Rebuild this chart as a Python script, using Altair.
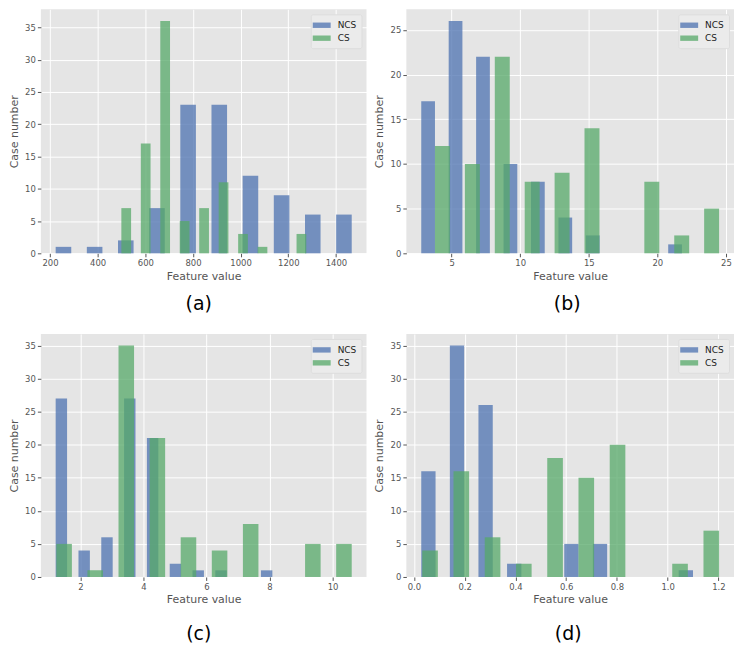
import altair as alt
import pandas as pd

series_names = ["NCS", "CS"]
series_colors = ["#4C72B0", "#55A868"]

# (a)
a_ncs_edges = [191, 321.8, 452.6, 583.4, 714.2, 845, 975.8, 1106.6, 1237.4, 1368.2, 1499]
a_ncs_counts = [1, 1, 2, 7, 23, 23, 12, 9, 6, 6]
a_cs_edges = [479, 560.7, 642.4, 724.1, 805.8, 887.5, 969.2, 1050.9, 1132.6, 1214.3, 1296]
a_cs_counts = [7, 17, 36, 5, 7, 11, 3, 1, 0, 3]
a_xticks = [200, 400, 600, 800, 1000, 1200, 1400]
a_yticks = [0, 5, 10, 15, 20, 25, 30, 35]

# (b)
b_ncs_edges = [2.29, 4.29, 6.29, 8.29, 10.29, 12.29, 14.29, 16.29, 18.29, 20.29, 22.29]
b_ncs_counts = [17, 26, 22, 10, 8, 4, 2, 0, 0, 1]
b_cs_edges = [3.245, 5.425, 7.605, 9.785, 11.965, 14.145, 16.325, 18.505, 20.685, 22.865, 25.045]
b_cs_counts = [12, 10, 22, 8, 9, 14, 0, 8, 2, 5]
b_xticks = [5, 10, 15, 20, 25]
b_yticks = [0, 5, 10, 15, 20, 25]

# (c)
c_ncs_edges = [1.034, 1.758, 2.481, 3.205, 3.929, 4.653, 5.376, 6.100, 6.824, 7.547, 8.271]
c_ncs_counts = [27, 4, 6, 27, 21, 2, 1, 1, 0, 1]
c_cs_edges = [0.989, 1.976, 2.962, 3.949, 4.935, 5.922, 6.909, 7.895, 8.882, 9.868, 10.855]
c_cs_counts = [5, 1, 35, 21, 6, 4, 8, 0, 5, 5]
c_xticks = [2, 4, 6, 8, 10]
c_yticks = [0, 5, 10, 15, 20, 25, 30, 35]

# (d)
d_ncs_edges = [0.0005, 0.1133, 0.2260, 0.3388, 0.4516, 0.5643, 0.6771, 0.7898, 0.9026, 1.0154, 1.1281]
d_ncs_counts = [16, 35, 26, 2, 0, 5, 5, 0, 0, 1]
d_cs_edges = [0.0018, 0.1250, 0.2482, 0.3714, 0.4946, 0.6178, 0.7409, 0.8641, 0.9873, 1.1105, 1.2337]
d_cs_counts = [4, 16, 6, 2, 18, 15, 20, 0, 2, 7]
d_xticks = [0.0, 0.2, 0.4, 0.6, 0.8, 1.0, 1.2]
d_yticks = [0, 5, 10, 15, 20, 25, 30, 35]

RWIDTH = 0.5


def make_panel(ncs_edges, ncs_counts, cs_edges, cs_counts, xticks, yticks,
               label, fmt, width, height, offset, dx):
    rows = []
    for z, (name, edges, counts) in enumerate(
            [("NCS", ncs_edges, ncs_counts), ("CS", cs_edges, cs_counts)]):
        for i, c in enumerate(counts):
            rows.append({"series": name, "lo": edges[i], "hi": edges[i + 1],
                         "count": c, "z": z})
    df = pd.DataFrame(rows)
    bw = df["hi"] - df["lo"]
    left = df["lo"] + bw * (1 - RWIDTH) / 2
    right = df["lo"] + bw * (1 + RWIDTH) / 2
    span = right.max() - left.min()
    xdom = [float(left.min() - 0.05 * span), float(right.max() + 0.05 * span)]
    ydom = [0, float(df["count"].max() * 1.05)]
    off = (1 - RWIDTH) / 2
    return alt.Chart(df).mark_bar(opacity=0.75).transform_calculate(
        bar_lo=f"datum.lo + {off}*(datum.hi - datum.lo)",
        bar_hi=f"datum.lo + {1 - off}*(datum.hi - datum.lo)",
    ).encode(
        x=alt.X("bar_lo:Q",
                scale=alt.Scale(domain=xdom, nice=False, zero=False),
                axis=alt.Axis(values=xticks, title="Feature value", format=fmt)),
        x2="bar_hi:Q",
        y=alt.Y("count:Q", stack=None,
                scale=alt.Scale(domain=ydom, nice=False),
                axis=alt.Axis(values=yticks, title="Case number")),
        y2=alt.datum(0),
        color=alt.Color("series:N",
                        scale=alt.Scale(domain=series_names, range=series_colors),
                        legend=alt.Legend(title=None, orient="top-right")),
        order=alt.Order("z:Q"),
    ).properties(
        width=width, height=height,
        title=alt.TitleParams(text=label, orient="bottom", fontSize=19,
                              font="DejaVu Sans", fontWeight="normal",
                              color="black", offset=offset, frame="group",
                              anchor="middle", dx=dx),
    )


pa = make_panel(a_ncs_edges, a_ncs_counts, a_cs_edges, a_cs_counts, a_xticks, a_yticks,
                "(a)", "d", 327, 245, 14, -5)
pb = make_panel(b_ncs_edges, b_ncs_counts, b_cs_edges, b_cs_counts, b_xticks, b_yticks,
                "(b)", "d", 329, 245, 14, -3)
pc = make_panel(c_ncs_edges, c_ncs_counts, c_cs_edges, c_cs_counts, c_xticks, c_yticks,
                "(c)", "d", 327, 244, 20, -5)
pd_ = make_panel(d_ncs_edges, d_ncs_counts, d_cs_edges, d_cs_counts, d_xticks, d_yticks,
                 "(d)", ".1f", 329, 244, 20, -2)

row1 = alt.hconcat(pa, pb, spacing=7).resolve_scale(color="independent")
row2 = alt.hconcat(pc, pd_, spacing=7).resolve_scale(color="independent")

chart = alt.vconcat(row1, row2, spacing=20).properties(
    padding=0, background="white"
).configure_view(
    fill="#E5E5E5", stroke=None
).configure_axis(
    grid=True, gridColor="white", gridWidth=1, domain=False,
    tickColor="#555555", tickSize=3.5, tickWidth=1,
    labelColor="#555555", labelFontSize=8.5, labelFont="DejaVu Sans",
    labelPadding=2,
    titleFont="DejaVu Sans", titleFontSize=11, titleColor="#555555",
    titleFontWeight="normal",
).configure_axisX(
    titlePadding=3, labelFlush=False
).configure_axisY(
    titlePadding=5.5
).configure_legend(
    fillColor="#EBEBEB", strokeColor="#DDDDDD", padding=5, offset=5,
    cornerRadius=2,
    labelFont="DejaVu Sans", labelFontSize=9, labelColor="#222222",
    symbolType="M-1.5,-0.45H1.5V0.45H-1.5Z", symbolSize=144,
    symbolOpacity=0.75, symbolStrokeWidth=0, labelOffset=10, rowPadding=2,
)

chart.save("out.html", embed_options={"renderer": "svg", "actions": False})
